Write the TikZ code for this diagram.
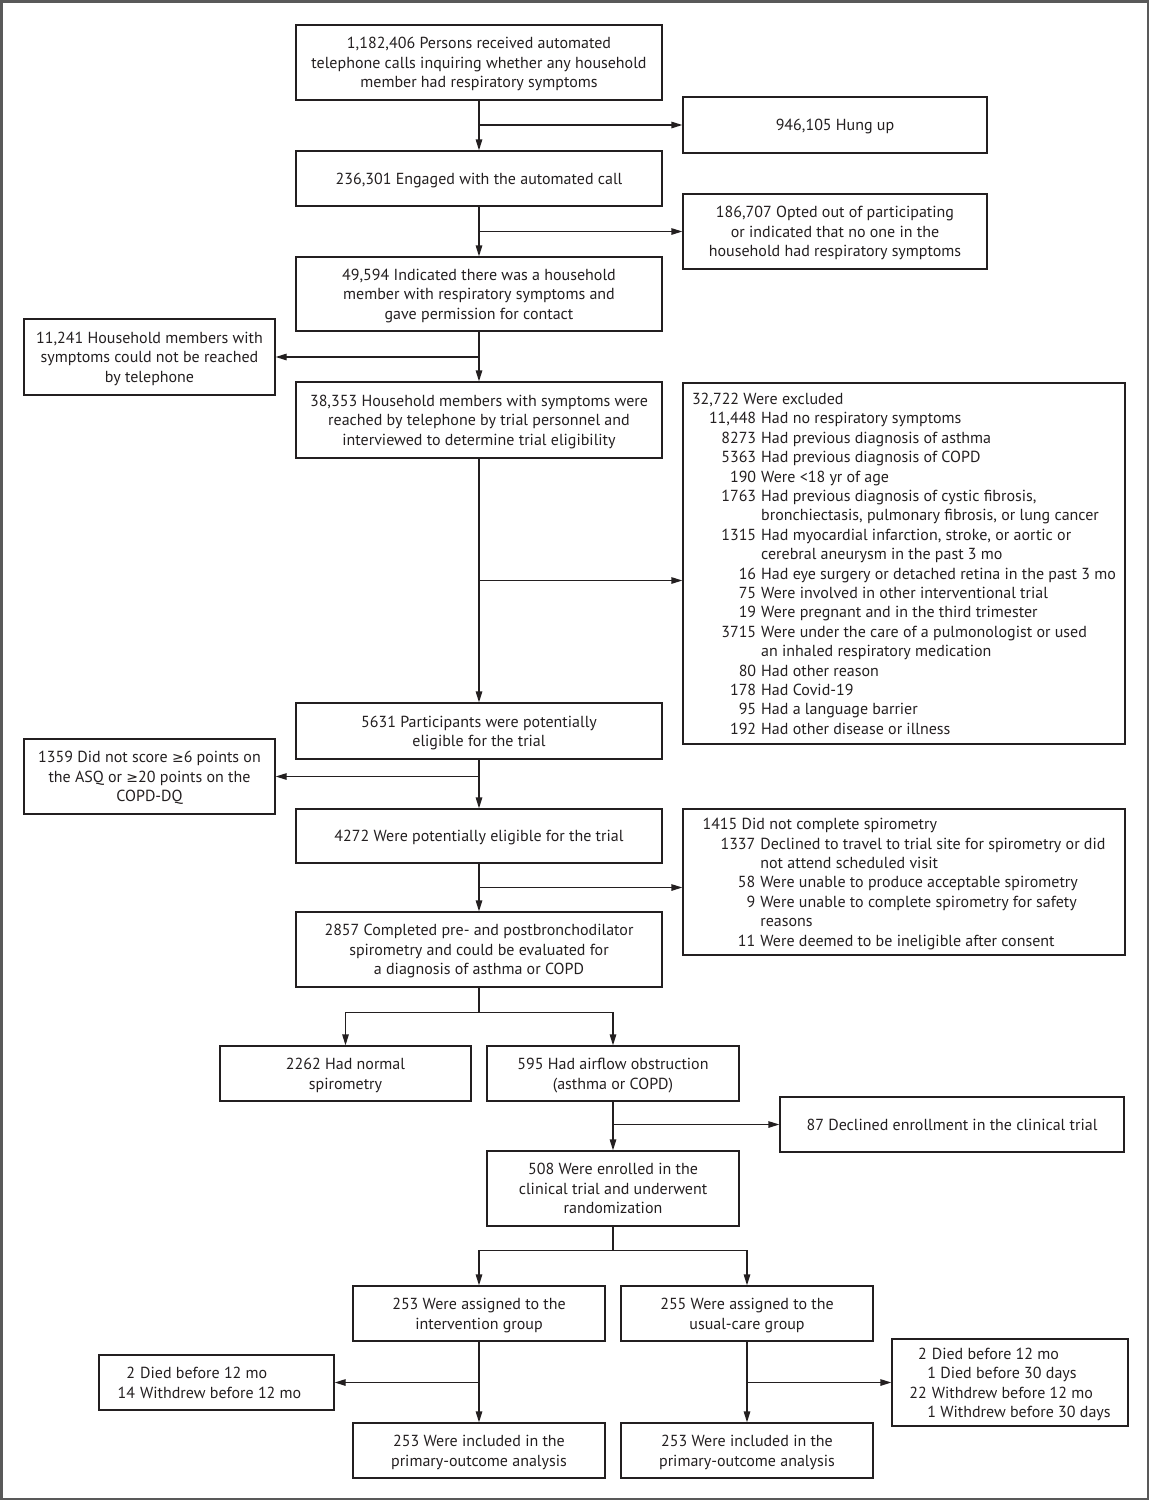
\documentclass[tikz,border=0pt]{standalone}
\usepackage{fontspec}
\setmainfont{PT Sans}
\newfontfamily\dvs{DejaVu Sans}
\usetikzlibrary{arrows.meta,calc}
\definecolor{ink}{HTML}{231F20}
\newcommand\fs{\fontsize{16}{19.4}\selectfont}
\newcommand\gte{{\dvs\fontsize{14}{19.4}\selectfont ≥}}
\newcommand\rb[1]{\raisebox{-2pt}[\height][\depth]{#1}}
\newcommand\tx[1]{\rb{\begin{tabular}{@{}c@{}}#1\end{tabular}}}
\begin{document}
\begin{tikzpicture}[x=1pt,y=-1pt,
  box/.style={draw=ink, line width=1.3pt, inner sep=0pt, align=center, font=\fs, text=ink},
  bx/.style 2 args={box, minimum width=#1, minimum height=#2},
  arr/.style={draw=ink, line width=1.3pt, -{Triangle[length=11pt,width=6.5pt]}},
  ln/.style={draw=ink, line width=1.3pt}]
\useasboundingbox (0,0) rectangle (1149,1500);
\draw[line width=2.5pt, draw=black!65] (1.25,1.25) rectangle (1147.75,1498.75);

\node[bx={366pt}{75pt}] (b1) at (479,62.5) {\tx{1,182,406 Persons received automated\\telephone calls inquiring whether any household\\member had respiratory symptoms}};
\node[bx={304pt}{56pt}] (hung) at (835,125) {\tx{946,105 Hung up}};
\node[bx={366pt}{55pt}] (b2) at (479,178.5) {\tx{236,301 Engaged with the automated call}};
\node[bx={304pt}{75pt}] (opt) at (835,231.5) {\tx{186,707 Opted out of participating\\or indicated that no one in the\\household had respiratory symptoms}};
\node[bx={366pt}{74pt}] (b3) at (479,294) {\tx{49,594 Indicated there was a household\\member with respiratory symptoms and\\gave permission for contact}};
\node[bx={251pt}{76pt}] (noreach) at (149.5,357) {\tx{11,241 Household members with\\symptoms could not be reached\\by telephone}};
\node[bx={366pt}{76pt}] (b4) at (479,420) {\tx{38,353 Household members with symptoms were\\reached by telephone by trial personnel and\\interviewed to determine trial eligibility}};
\node[bx={442pt}{361pt}] (excl) at (904,563.5) {\rb{\begin{tabular}{@{\hspace{17pt}}r@{\hspace{5pt}}l@{}}
\multicolumn{2}{@{}l@{}}{32,722 Were excluded}\\
11,448 & Had no respiratory symptoms\\
8273 & Had previous diagnosis of asthma\\
5363 & Had previous diagnosis of COPD\\
190 & Were <18 yr of age\\
1763 & Had previous diagnosis of cystic fibrosis,\\
 & bronchiectasis, pulmonary fibrosis, or lung cancer\\
1315 & Had myocardial infarction, stroke, or aortic or\\
 & cerebral aneurysm in the past 3 mo\\
16 & Had eye surgery or detached retina in the past 3 mo\\
75 & Were involved in other interventional trial\\
19 & Were pregnant and in the third trimester\\
3715 & Were under the care of a pulmonologist or used\\
 & an inhaled respiratory medication\\
80 & Had other reason\\
178 & Had Covid-19\\
95 & Had a language barrier\\
192 & Had other disease or illness
\end{tabular}}};
\node[bx={366pt}{56pt}] (b5) at (479,731) {\tx{5631 Participants were potentially\\eligible for the trial}};
\node[bx={251pt}{75pt}] (asq) at (149.5,776.5) {\tx{1359 Did not score \gte6 points on\\the ASQ or \gte20 points on the\\COPD-DQ}};
\node[bx={366pt}{54pt}] (b6) at (479,836) {\tx{4272 Were potentially eligible for the trial}};
\node[bx={442pt}{146pt}] (spiro) at (904,882) {\rb{\begin{tabular}{@{\hspace{18pt}}r@{\hspace{5pt}}l@{}}
\multicolumn{2}{@{}l@{}}{1415 Did not complete spirometry}\\
1337 & Declined to travel to trial site for spirometry or did\\
 & not attend scheduled visit\\
58 & Were unable to produce acceptable spirometry\\
9 & Were unable to complete spirometry for safety\\
 & reasons\\
11 & Were deemed to be ineligible after consent
\end{tabular}}};
\node[bx={366pt}{75pt}] (b7) at (479,949.5) {\tx{2857 Completed pre- and postbronchodilator\\spirometry and could be evaluated for\\a diagnosis of asthma or COPD}};
\node[bx={251pt}{55pt}] (normal) at (345.5,1073.5) {\tx{2262 Had normal\\spirometry}};
\node[bx={252pt}{55pt}] (obstr) at (613,1073.5) {\tx{595 Had airflow obstruction\\(asthma or COPD)}};
\node[bx={344pt}{55pt}] (declined) at (952,1124.5) {\tx{87 Declined enrollment in the clinical trial}};
\node[bx={252pt}{75pt}] (enrolled) at (613,1188.5) {\tx{508 Were enrolled in the\\clinical trial and underwent\\randomization}};
\node[bx={252pt}{55pt}] (interv) at (479,1313.5) {\tx{253 Were assigned to the\\intervention group}};
\node[bx={252pt}{55pt}] (usual) at (747,1313.5) {\tx{255 Were assigned to the\\usual-care group}};
\node[bx={235pt}{55pt}] (leftd) at (216.5,1382.5) {\kern-14pt\rb{\begin{tabular}{@{}r@{\hspace{5pt}}l@{}}
2 & Died before 12 mo\\
14 & Withdrew before 12 mo
\end{tabular}}};
\node[bx={236pt}{87pt}] (rightd) at (1010,1382.5) {\rb{\begin{tabular}{@{}r@{\hspace{5pt}}l@{}}
2 & Died before 12 mo\\
\multicolumn{2}{@{\hspace{18pt}}l@{}}{1 Died before 30 days}\\
22 & Withdrew before 12 mo\\
\multicolumn{2}{@{\hspace{18pt}}l@{}}{1 Withdrew before 30 days}
\end{tabular}}};
\node[bx={252pt}{55pt}] (inclL) at (479,1450.5) {\tx{253 Were included in the\\primary-outcome analysis}};
\node[bx={252pt}{55pt}] (inclR) at (747,1450.5) {\tx{253 Were included in the\\primary-outcome analysis}};

% connectors
\draw[arr] (b1) -- (b2);
\coordinate (j1) at (b1.south |- hung.west);
\draw[arr] (j1) -- (hung.west);
\draw[arr] (b2) -- (b3);
\coordinate (j2) at (b2.south |- opt.west);
\draw[arr] (j2) -- (opt.west);
\draw[arr] (b3) -- (b4);
\coordinate (j3) at (b3.south |- noreach.east);
\draw[arr] (j3) -- (noreach.east);
\draw[arr] (b4) -- (b5);
\coordinate (j4) at ($(b4.south)!0.5!(b5.north)$);
\draw[arr] (j4) -- (j4 -| excl.west);
\draw[arr] (b5) -- (b6);
\coordinate (j5) at (b5.south |- asq.east);
\draw[arr] (j5) -- (asq.east);
\draw[arr] (b6) -- (b7);
\coordinate (j6) at ($(b6.south)!0.5!(b7.north)$);
\draw[arr] (j6) -- (j6 -| spiro.west);
\coordinate (s1) at ($(b7.south)+(0,25)$);
\draw[arr] (b7.south) -- (s1) -| (normal.north);
\draw[arr] (s1) -| (obstr.north);
\draw[arr] (obstr) -- (enrolled);
\coordinate (j7) at (obstr.south |- declined.west);
\draw[arr] (j7) -- (declined.west);
\coordinate (s2) at ($(enrolled.south)+(0,24)$);
\draw[arr] (enrolled.south) -- (s2) -| (usual.north);
\draw[arr] (s2) -| (interv.north);
\draw[arr] (interv) -- (inclL);
\coordinate (j8) at (interv.south |- leftd.east);
\draw[arr] (j8) -- (leftd.east);
\draw[arr] (usual) -- (inclR);
\coordinate (j9) at (usual.south |- rightd.west);
\draw[arr] (j9) -- (rightd.west);
\end{tikzpicture}
\end{document}
